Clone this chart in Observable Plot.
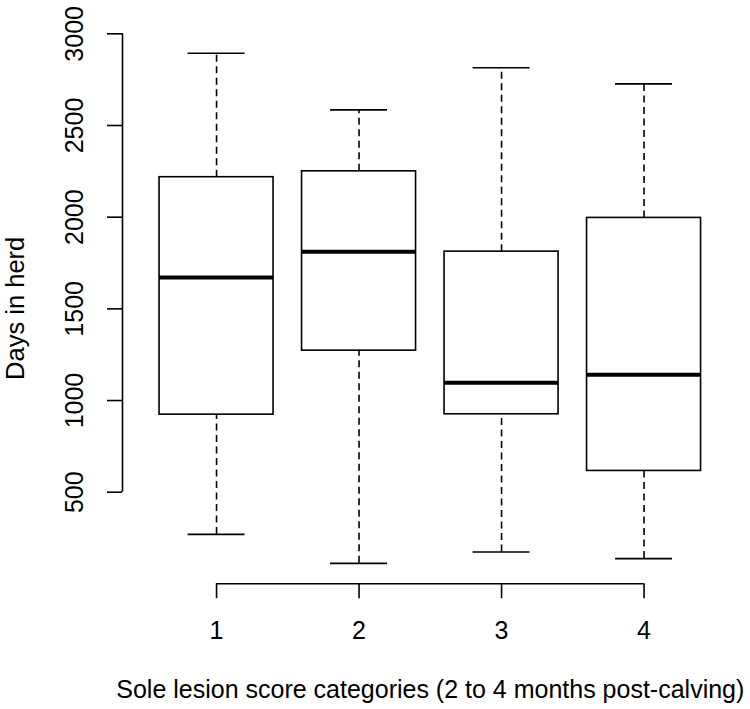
<!DOCTYPE html>
<html>
<head>
<meta charset="utf-8">
<script src="https://cdn.jsdelivr.net/npm/d3@7"></script>
<script src="https://cdn.jsdelivr.net/npm/@observablehq/plot@0.6"></script>
<style>
  html, body { margin: 0; padding: 0; background: white; }
</style>
</head>
<body>
<div id="chart"></div>
<script>
// Data
const categories  = [1, 2, 3, 4];
const whiskerHigh = [2894, 2585, 2815, 2727];
const upperQuart  = [2218, 2250, 1812, 1996];
const medians     = [1671, 1812, 1097, 1141];
const lowerQuart  = [923, 1272, 925, 616];
const whiskerLow  = [270, 112, 174, 138];
const yTicks = [500, 1000, 1500, 2000, 2500, 3000];
const xTicks = [1, 2, 3, 4];
const yLabel = "Days in herd";
const xLabel = "Sole lesion score categories (2 to 4 months post-calving)";

const rows = categories.map((c, i) => ({
  cat: c, hi: whiskerHigh[i], q3: upperQuart[i], med: medians[i],
  q1: lowerQuart[i], lo: whiskerLow[i]
}));

const xDomain = [0.34, 4.66];
const yDomain = [1, 3005];
const boxHalf = 0.4;
const capHalf = 0.2;
const lw = 1.6;
const dash = "7,4.5";

const chart = Plot.plot({
  width: 750,
  height: 709,
  marginLeft: 122,
  marginRight: 12.4,
  marginTop: 32.4,
  marginBottom: 125.8,
  x: {domain: xDomain},
  y: {domain: yDomain},
  style: {fontFamily: "'Liberation Sans', Arial, sans-serif", background: "white", color: "black"},
  marks: [
    // whiskers
    Plot.ruleX(rows, {x: "cat", y1: "q3", y2: "hi", stroke: "black", strokeWidth: lw, strokeDasharray: dash}),
    Plot.ruleX(rows, {x: "cat", y1: "lo", y2: "q1", stroke: "black", strokeWidth: lw, strokeDasharray: dash}),
    Plot.ruleY(rows, {y: "hi", x1: d => d.cat - capHalf, x2: d => d.cat + capHalf, stroke: "black", strokeWidth: lw}),
    Plot.ruleY(rows, {y: "lo", x1: d => d.cat - capHalf, x2: d => d.cat + capHalf, stroke: "black", strokeWidth: lw}),
    // boxes
    Plot.rect(rows, {x1: d => d.cat - boxHalf, x2: d => d.cat + boxHalf, y1: "q1", y2: "q3", fill: "white", stroke: "black", strokeWidth: lw}),
    // medians
    Plot.ruleY(rows, {y: "med", x1: d => d.cat - boxHalf, x2: d => d.cat + boxHalf, stroke: "black", strokeWidth: 4}),
    // y axis
    Plot.ruleX([xDomain[0]], {y1: yTicks[0], y2: yTicks[yTicks.length - 1], stroke: "black", strokeWidth: lw}),
    Plot.axisY({anchor: "left", ticks: yTicks, tickSize: 15, tickFormat: () => "", strokeWidth: lw, label: null}),
    Plot.text(yTicks, {y: d => d, text: d => String(d), frameAnchor: "left", dx: -40, rotate: -90, textAnchor: "middle", lineAnchor: "bottom", fontSize: 25, fill: "black"}),
    Plot.text([yLabel], {text: d => d, frameAnchor: "left", dx: -99, rotate: -90, textAnchor: "middle", lineAnchor: "bottom", fontSize: 25.5, fill: "black"}),
    // x axis
    Plot.ruleY([yDomain[0]], {x1: xTicks[0], x2: xTicks[xTicks.length - 1], stroke: "black", strokeWidth: lw}),
    Plot.axisX({anchor: "bottom", ticks: xTicks, tickFormat: d => String(d), tickSize: 15, tickPadding: 23, fontSize: 25, strokeWidth: lw, label: null}),
    Plot.text([xLabel], {text: d => d, frameAnchor: "bottom", dy: 113.8, lineAnchor: "bottom", fontSize: 25, fill: "black"})
  ]
});
document.getElementById("chart").appendChild(chart);
</script>
</body>
</html>
